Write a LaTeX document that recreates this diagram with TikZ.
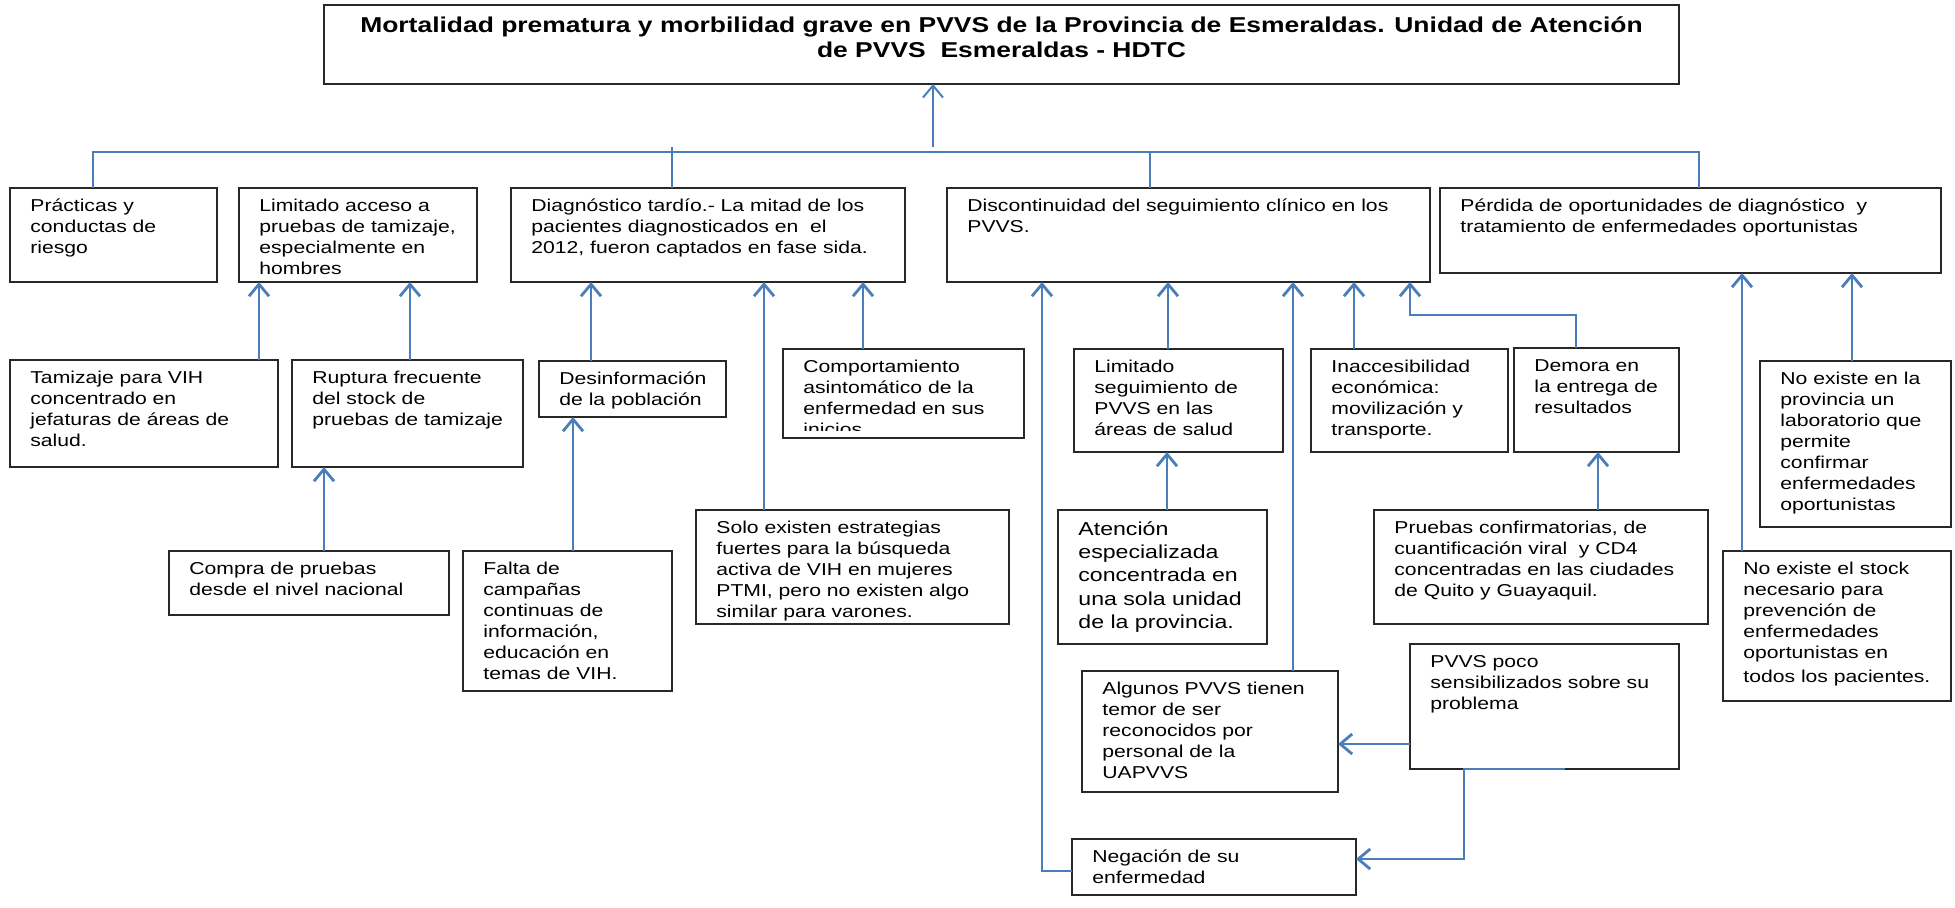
\documentclass[tikz,border=0pt]{standalone}
\usepackage{fontspec}
\setmainfont{Liberation Sans}[FakeStretch=1.23]
\usetikzlibrary{arrows.meta}
\definecolor{lnblue}{RGB}{74,126,187}
\definecolor{bxline}{RGB}{40,40,40}
\newcommand\fst{\rule{0pt}{0.8em}}
\tikzset{
 boxst/.style={draw=bxline, line width=0.9pt, inner sep=0pt, outer sep=0pt, fill=white},
 txtst/.style={anchor=north west, inner sep=0pt, align=left, font=\fontsize{8.6}{10.5}\selectfont},
 arr/.style={draw=lnblue, line width=1.4pt, -{Straight Barb[length=6pt,width=10pt]}},
 trunk/.style={draw=lnblue, line width=0.8pt},
}
\newcommand\bx[7][]{%
 \node[boxst, minimum width={(#5-#3)*0.5pt}, minimum height={(#6-#4)*0.5pt}] (#2) at ({(#3+#5)/2},{(#4+#6)/2}) {};
 \node[txtst,#1] (#2t) at ([xshift=10pt,yshift=-4.8pt]#2.north west) {\fst#7};}
\begin{document}
\begin{tikzpicture}[x=0.5pt,y=-0.5pt]
\useasboundingbox (0,0) rectangle (1955,907);
% title
\node[boxst, minimum width={(1679-324)*0.5pt}, minimum height={(84-5)*0.5pt}] (title) at ({(324+1679)/2},{(5+84)/2}) {};
\node[anchor=north, inner sep=0pt, align=center, font=\bfseries\fontsize{10.75}{12.2}\selectfont] (titlet) at ([yshift=-5.1pt]title.north) {\fst Mortalidad prematura y morbilidad grave en PVVS de la Provincia de Esmeraldas. Unidad de Atención\\de PVVS\ \ Esmeraldas - HDTC};
% level 1
\bx{prac}{10}{188}{217}{282}{Prácticas y\\conductas de\\riesgo}
\bx{lim}{239}{188}{477}{282}{Limitado acceso a\\pruebas de tamizaje,\\especialmente en\\hombres}
\bx{diag}{511}{188}{905}{282}{Diagnóstico tardío.- La mitad de los\\pacientes diagnosticados en\ \ el\\2012, fueron captados en fase sida.}
\bx{disc}{947}{188}{1430}{282}{Discontinuidad del seguimiento clínico en los\\PVVS.}
\bx{perd}{1440}{188}{1941}{273}{Pérdida de oportunidades de diagnóstico\ \ y\\tratamiento de enfermedades oportunistas}
% level 2
\bx{tam}{10}{360}{278}{467}{Tamizaje para VIH\\concentrado en\\jefaturas de áreas de\\salud.}
\bx{rup}{292}{360}{523}{467}{Ruptura frecuente\\del stock de\\pruebas de tamizaje}
\bx{desinf}{539}{361}{726}{417}{Desinformación\\de la población}
\node[boxst, minimum width={(1024-783)*0.5pt}, minimum height={(438-349)*0.5pt}] (comp) at ({(783+1024)/2},{(349+438)/2}) {};
\begin{scope}
\clip (783,349) rectangle (1024,430);
\node[txtst] (compt) at ([xshift=10pt,yshift=-4.8pt]comp.north west) {\fst Comportamiento\\asintomático de la\\enfermedad en sus\\inicios};
\end{scope}
\bx{limseg}{1074}{349}{1283}{452}{Limitado\\seguimiento de\\PVVS en las\\áreas de salud}
\bx{inacc}{1311}{349}{1508}{452}{Inaccesibilidad\\económica:\\movilización y\\transporte.}
\bx{demora}{1514}{348}{1679}{452}{Demora en\\la entrega de\\resultados}
\bx{noprov}{1760}{361}{1951}{527}{No existe en la\\provincia un\\laboratorio que\\permite\\confirmar\\enfermedades\\oportunistas}
% level 3
\bx{compra}{169}{551}{449}{615}{Compra de pruebas\\desde el nivel nacional}
\bx{falta}{463}{551}{672}{691}{Falta de\\campañas\\continuas de\\información,\\educación en\\temas de VIH.}
\bx{solo}{696}{510}{1009}{624}{Solo existen estrategias\\fuertes para la búsqueda\\activa de VIH en mujeres\\PTMI, pero no existen algo\\similar para varones.}
\bx[font=\fontsize{9.4}{11.7}\selectfont]{aten}{1058}{510}{1267}{644}{Atención\\especializada\\concentrada en\\una sola unidad\\de la provincia.}
\bx{pruebas}{1374}{510}{1708}{624}{Pruebas confirmatorias, de\\cuantificación viral\ \ y CD4\\concentradas en las ciudades\\de Quito y Guayaquil.}
\bx{nostock}{1723}{551}{1951}{701}{No existe el stock\\necesario para\\prevención de\\enfermedades\\oportunistas en\\[1.5pt]todos los pacientes.}
\bx{pvvs}{1410}{644}{1679}{769}{PVVS poco\\sensibilizados sobre su\\problema}
\bx{algunos}{1082}{671}{1338}{792}{Algunos PVVS tienen\\temor de ser\\reconocidos por\\personal de la\\UAPVVS}
\bx{neg}{1072}{839}{1356}{895}{Negación de su\\enfermedad}
% trunk
\coordinate (tL) at (93,152);
\coordinate (tR) at (1699,152);
\coordinate (tC) at (933,147);
\draw[trunk] (prac.north -| tL) -- (tL) -- (tR) -- (perd.north -| tR);
\draw[trunk] (672,147) -- (672,0 |- diag.north);
\draw[trunk] (1150,152) -- (1150,0 |- disc.north);
\draw[draw=lnblue, line width=1pt, -{Straight Barb[length=6pt,width=10pt]}] (tC) -- (tC |- title.south);
% arrows
\draw[arr] (259,0 |- tam.north) -- (259,0 |- lim.south);
\draw[arr] (410,0 |- rup.north) -- (410,0 |- lim.south);
\draw[arr] (324,0 |- compra.north) -- (324,0 |- rup.south);
\draw[arr] (591,0 |- desinf.north) -- (591,0 |- diag.south);
\draw[arr] (573,0 |- falta.north) -- (573,0 |- desinf.south);
\draw[arr] (764,0 |- solo.north) -- (764,0 |- diag.south);
\draw[arr] (863,0 |- comp.north) -- (863,0 |- diag.south);
\draw[arr] (neg.west |- 0,871) -- (1042,871) -- (1042,0 |- disc.south);
\draw[arr] (1168,0 |- limseg.north) -- (1168,0 |- disc.south);
\draw[arr] (1167,0 |- aten.north) -- (1167,0 |- limseg.south);
\draw[arr] (1293,0 |- algunos.north) -- (1293,0 |- disc.south);
\draw[arr] (1354,0 |- inacc.north) -- (1354,0 |- disc.south);
\draw[arr] (1576,0 |- demora.north) -- (1576,315) -- (1410,315) -- (1410,0 |- disc.south);
\draw[arr] (1598,0 |- pruebas.north) -- (1598,0 |- demora.south);
\draw[arr] (pvvs.west |- 0,744) -- (algunos.east |- 0,744);
\draw[arr] (1565,0 |- pvvs.south) -- (1464,0 |- pvvs.south) -- (1464,859) -- (neg.east |- 0,859);
\draw[arr] (1742,0 |- nostock.north) -- (1742,0 |- perd.south);
\draw[arr] (1852,0 |- noprov.north) -- (1852,0 |- perd.south);
\end{tikzpicture}
\end{document}
